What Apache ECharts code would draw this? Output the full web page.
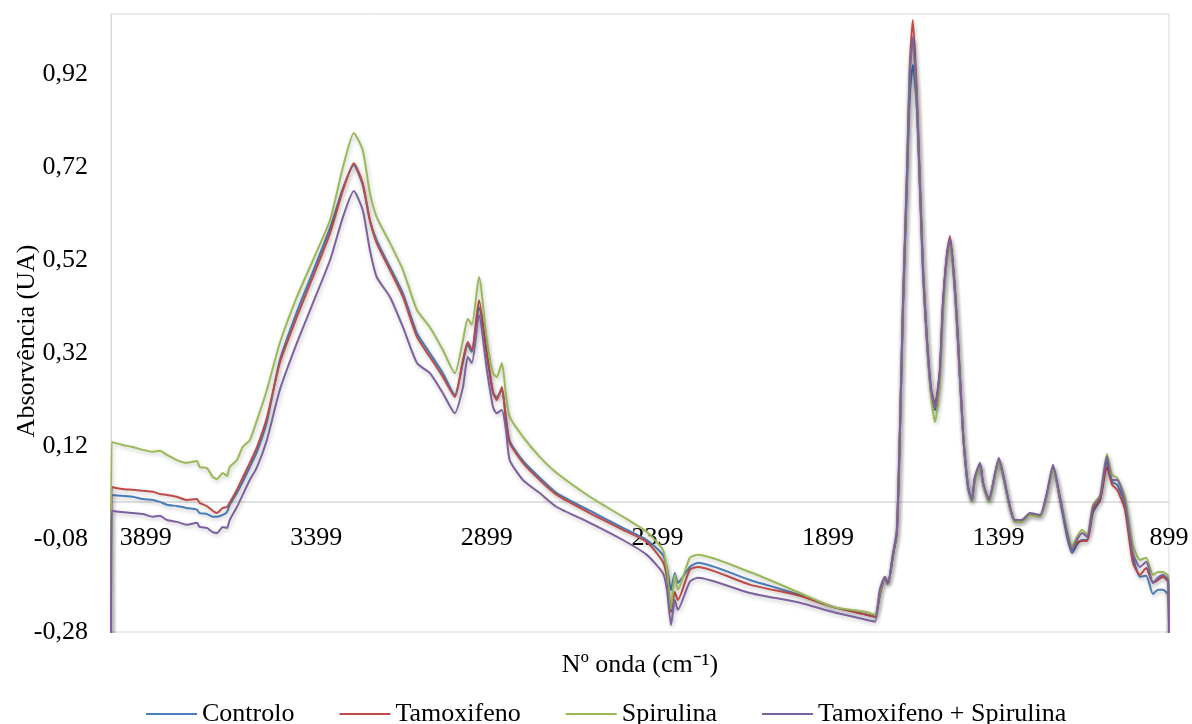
<!DOCTYPE html>
<html>
<head>
<meta charset="utf-8">
<title>FTIR</title>
<script src="https://cdn.jsdelivr.net/npm/echarts@6/dist/echarts.min.js"></script>
<style>
  html, body { margin: 0; padding: 0; background: #fff; }
  #chart { width: 1192px; height: 724px; }
</style>
</head>
<body>
<div id="chart"></div>
<script>
// wavenumbers (cm-1)
var waveNumbers = [4001, 3999, 3969, 3937, 3908, 3878, 3858, 3837, 3808, 3779, 3749, 3741, 3720, 3703, 3691, 3673, 3661, 3653, 3632, 3615,
    3594, 3573, 3544, 3506, 3456, 3409, 3359, 3321, 3289, 3263, 3242, 3222, 3183, 3145, 3104, 3066, 3028, 2993, 2969, 2955,
    2943, 2922, 2899, 2881, 2870, 2855, 2843, 2832, 2793, 2744, 2694, 2597, 2500, 2430, 2383, 2371, 2359, 2348, 2339, 2304,
    2280, 2128, 1981, 1884, 1785, 1761, 1747, 1732, 1723, 1708, 1697, 1688, 1679, 1667, 1659, 1650, 1638, 1629, 1620, 1609,
    1597, 1585, 1571, 1562, 1550, 1541, 1527, 1518, 1503, 1488, 1477, 1468, 1453, 1444, 1427, 1409, 1398, 1386, 1365, 1351,
    1330, 1307, 1277, 1257, 1239, 1219, 1198, 1183, 1169, 1154, 1139, 1122, 1101, 1081, 1066, 1051, 1028, 1005, 984, 966,
    946, 931, 917, 902, 899];

var controlo = [-0.3, 0.015, 0.013, 0.011, 0.006, 0.004, 0.000, -0.006, -0.009, -0.013, -0.017, -0.024, -0.026, -0.032, -0.032, -0.028, -0.022, -0.006, 0.019, 0.043,
    0.075, 0.108, 0.172, 0.305, 0.409, 0.495, 0.589, 0.675, 0.725, 0.682, 0.606, 0.563, 0.505, 0.449, 0.363, 0.320, 0.277, 0.230, 0.301, 0.338,
    0.323, 0.419, 0.316, 0.234, 0.226, 0.241, 0.181, 0.131, 0.088, 0.052, 0.019, -0.019, -0.056, -0.082, -0.114, -0.142, -0.189, -0.153, -0.174, -0.140,
    -0.131, -0.168, -0.200, -0.226, -0.243, -0.247, -0.200, -0.163, -0.176, -0.114, -0.067, 0.146, 0.413, 0.692, 0.875, 0.940, 0.843, 0.671, 0.490, 0.348,
    0.237, 0.198, 0.277, 0.417, 0.529, 0.563, 0.456, 0.348, 0.148, 0.030, 0.002, 0.049, 0.080, 0.037, 0.002, 0.058, 0.090, 0.058, -0.015, -0.043,
    -0.041, -0.026, -0.030, 0.015, 0.075, 0.006, -0.075, -0.110, -0.092, -0.082, -0.082, -0.022, 0.004, 0.086, 0.043, 0.037, -0.006, -0.116, -0.161, -0.159,
    -0.198, -0.189, -0.189, -0.200, -0.3];

var tamoxifeno = [-0.3, 0.032, 0.028, 0.026, 0.024, 0.022, 0.017, 0.015, 0.011, 0.004, 0.006, -0.002, -0.009, -0.019, -0.024, -0.013, -0.011, -0.002, 0.026, 0.052,
    0.084, 0.118, 0.181, 0.299, 0.398, 0.484, 0.578, 0.671, 0.729, 0.686, 0.606, 0.557, 0.499, 0.441, 0.355, 0.312, 0.269, 0.226, 0.305, 0.344,
    0.327, 0.434, 0.320, 0.237, 0.219, 0.247, 0.176, 0.127, 0.084, 0.047, 0.015, -0.024, -0.060, -0.086, -0.129, -0.163, -0.237, -0.194, -0.211, -0.146,
    -0.140, -0.178, -0.202, -0.226, -0.243, -0.247, -0.200, -0.163, -0.176, -0.114, -0.065, 0.151, 0.424, 0.714, 0.940, 1.037, 0.875, 0.682, 0.499, 0.353,
    0.245, 0.209, 0.284, 0.424, 0.535, 0.572, 0.462, 0.353, 0.151, 0.032, 0.004, 0.052, 0.082, 0.039, 0.004, 0.060, 0.092, 0.060, -0.013, -0.041,
    -0.039, -0.026, -0.030, 0.017, 0.073, 0.009, -0.067, -0.103, -0.088, -0.084, -0.084, -0.017, 0.004, 0.075, 0.037, 0.026, -0.017, -0.131, -0.157, -0.142,
    -0.174, -0.168, -0.161, -0.172, -0.3];

var spirulina = [-0.3, 0.129, 0.123, 0.118, 0.112, 0.108, 0.110, 0.101, 0.090, 0.084, 0.088, 0.075, 0.073, 0.054, 0.049, 0.062, 0.056, 0.075, 0.090, 0.118,
    0.133, 0.176, 0.241, 0.342, 0.441, 0.520, 0.606, 0.720, 0.794, 0.757, 0.665, 0.613, 0.557, 0.499, 0.413, 0.376, 0.327, 0.277, 0.348, 0.394,
    0.381, 0.484, 0.348, 0.277, 0.269, 0.299, 0.230, 0.183, 0.140, 0.097, 0.062, 0.011, -0.032, -0.065, -0.103, -0.146, -0.232, -0.157, -0.189, -0.120,
    -0.114, -0.151, -0.196, -0.226, -0.237, -0.243, -0.196, -0.161, -0.174, -0.110, -0.060, 0.151, 0.424, 0.710, 0.925, 0.994, 0.854, 0.675, 0.495, 0.348,
    0.230, 0.172, 0.252, 0.402, 0.520, 0.553, 0.452, 0.348, 0.148, 0.032, 0.000, 0.047, 0.077, 0.037, 0.000, 0.056, 0.086, 0.056, -0.015, -0.043,
    -0.043, -0.028, -0.032, 0.013, 0.069, 0.011, -0.060, -0.095, -0.075, -0.060, -0.071, -0.006, 0.015, 0.103, 0.058, 0.052, 0.011, -0.092, -0.125, -0.120,
    -0.157, -0.151, -0.151, -0.159, -0.3];

var tamoxSpirulina = [-0.3, -0.019, -0.022, -0.024, -0.026, -0.032, -0.030, -0.039, -0.043, -0.049, -0.045, -0.054, -0.056, -0.065, -0.067, -0.054, -0.056, -0.039, -0.011, 0.015,
    0.047, 0.075, 0.133, 0.241, 0.342, 0.428, 0.520, 0.613, 0.669, 0.628, 0.542, 0.484, 0.441, 0.376, 0.299, 0.277, 0.234, 0.191, 0.247, 0.312,
    0.299, 0.402, 0.284, 0.204, 0.191, 0.198, 0.155, 0.090, 0.047, 0.019, -0.011, -0.045, -0.082, -0.114, -0.153, -0.189, -0.265, -0.211, -0.232, -0.172,
    -0.163, -0.196, -0.217, -0.237, -0.254, -0.258, -0.189, -0.161, -0.174, -0.110, -0.062, 0.151, 0.424, 0.710, 0.918, 1.000, 0.854, 0.675, 0.495, 0.353,
    0.245, 0.202, 0.280, 0.424, 0.531, 0.568, 0.460, 0.353, 0.151, 0.032, 0.004, 0.054, 0.084, 0.041, 0.004, 0.062, 0.095, 0.062, -0.011, -0.039,
    -0.039, -0.024, -0.028, 0.019, 0.080, 0.011, -0.067, -0.103, -0.082, -0.067, -0.075, -0.011, 0.011, 0.097, 0.047, 0.047, -0.002, -0.110, -0.140, -0.129,
    -0.174, -0.163, -0.157, -0.168, -0.3];

var xTicks = [899, 1399, 1899, 2399, 2899, 3399, 3899];
var yTicks = [-0.28, -0.08, 0.12, 0.32, 0.52, 0.72, 0.92];

var seriesNames = ['Controlo', 'Tamoxifeno', 'Spirulina', 'Tamoxifeno + Spirulina'];
var seriesColors = ['#4a7ebb', '#be4b48', '#98b954', '#7d60a0'];
var seriesValues = [controlo, tamoxifeno, spirulina, tamoxSpirulina];

var fontFam = "'Liberation Serif', 'Times New Roman', serif";
var fontSz = 26;

var yMin = -0.28, yMax = 1.05;
var gridTop = 14, gridBottom = 92, chartH = 724;
// x axis sits on y = 0, like the Excel chart
var plotH = chartH - gridTop - gridBottom;
var zeroOffset = -Math.round((0 - yMin) / (yMax - yMin) * plotH);

var dom = document.getElementById('chart');
var myChart = echarts.init(dom, null, { renderer: 'canvas' });

function pairs(vals) {
    return waveNumbers.map(function (w, i) { return [w, vals[i]]; });
}

var option = {
    animation: false,
    textStyle: { fontFamily: fontFam },
    grid: {
        left: 111, right: 23, top: gridTop, bottom: gridBottom,
        show: true, borderColor: '#d9d9d9', borderWidth: 1,
        containLabel: false,
        outerBoundsMode: 'none'
    },
    // y axis title, placed where Excel put it (a bit below the plot centre)
    graphic: [{
        type: 'text',
        x: 27, y: 341,
        rotation: Math.PI / 2,
        style: {
            text: 'Absorvência (UA)',
            font: fontSz + 'px ' + fontFam,
            fill: '#000',
            align: 'center',
            verticalAlign: 'middle'
        }
    }],
    legend: {
        data: seriesNames,
        left: 141, top: 696,
        icon: 'rect',
        itemWidth: 51, itemHeight: 2, itemGap: 45,
        textStyle: { fontFamily: fontFam, fontSize: fontSz, color: '#000' }
    },
    xAxis: {
        type: 'value',
        inverse: true,
        min: 899, max: 4001,
        offset: zeroOffset,
        name: 'Nº onda (cm⁻¹)',
        nameLocation: 'middle',
        nameGap: 150,
        nameTextStyle: { fontFamily: fontFam, fontSize: fontSz, color: '#000' },
        axisLine: { onZero: false, lineStyle: { color: '#d9d9d9', width: 1.5 } },
        axisTick: { show: false },
        splitLine: { show: false },
        axisLabel: {
            customValues: xTicks,
            margin: 23,
            fontFamily: fontFam, fontSize: fontSz, color: '#000',
            formatter: function (v) { return String(v); }
        }
    },
    yAxis: {
        type: 'value',
        min: yMin, max: yMax,
        axisLine: { show: true, lineStyle: { color: '#d9d9d9', width: 1 } },
        axisTick: { show: false },
        splitLine: { show: false },
        axisLabel: {
            customValues: yTicks,
            margin: 23,
            fontFamily: fontFam, fontSize: fontSz, color: '#000',
            formatter: function (v) { return v.toFixed(2).replace('.', ','); }
        }
    },
    series: seriesNames.map(function (n, i) {
        return {
            name: n,
            type: 'line',
            data: pairs(seriesValues[i]),
            symbol: 'none',
            smooth: 0.2,
            clip: true,
            color: seriesColors[i],
            lineStyle: {
                width: 2,
                color: seriesColors[i],
                shadowColor: 'rgba(0,0,0,0.25)',
                shadowBlur: 4,
                shadowOffsetX: 1,
                shadowOffsetY: 2
            }
        };
    })
};

if (option && typeof option === 'object') {
    myChart.setOption(option);
}

window.addEventListener('resize', myChart.resize);
</script>
</body>
</html>
